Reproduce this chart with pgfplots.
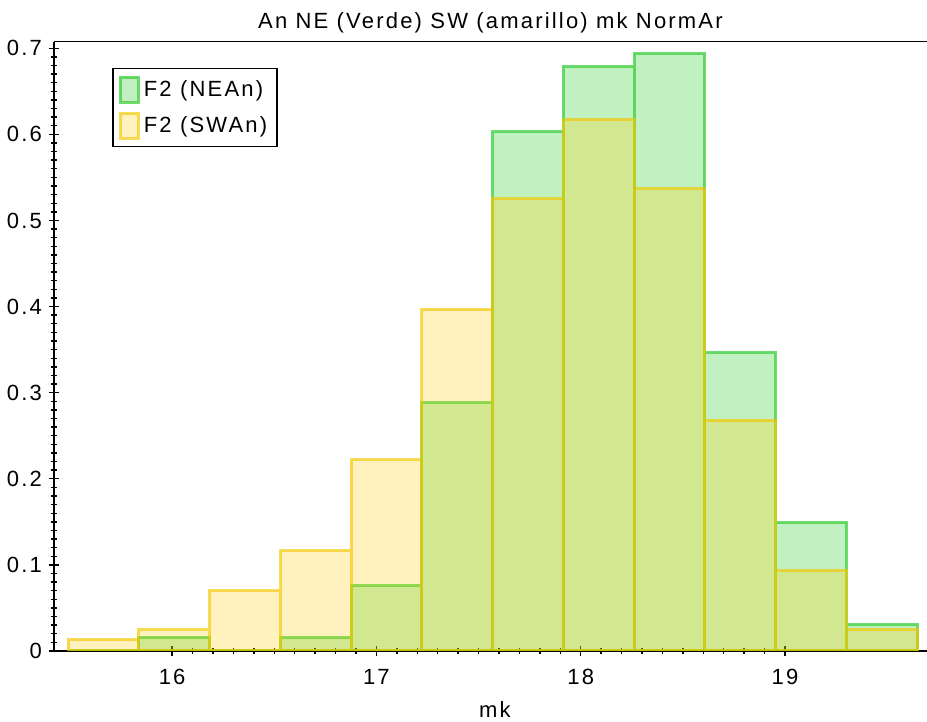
\documentclass[border=0pt]{standalone}
\usepackage{pgfplots}
\pgfplotsset{compat=1.18}
\usepackage{fontspec}
\setmainfont{Liberation Sans}[LetterSpace=10]

\definecolor{verde}{rgb}{0.2,0.8,0.2}
\definecolor{amarillo}{rgb}{1,0.8,0}
\definecolor{amarilloedge}{rgb}{0.95,0.78,0}

\begin{document}
\begin{tikzpicture}
\begin{axis}[
  at={(0,0)}, anchor=south west,
  width=436.5pt, height=304.7pt, scale only axis,
  xmin=15.422, xmax=19.695, ymin=0, ymax=0.7077,
  axis x line*=bottom, axis y line*=left,
  axis line style={line width=0.8pt},
  xtick={16,17,18,19}, minor x tick num=9,
  ytick={0,0.1,0.2,0.3,0.4,0.5,0.6,0.7}, minor y tick num=9,
  tick align=center, major tick length=5pt, minor tick length=3pt,
  tick style={black, line width=0.7pt},
  /pgf/number format/assume math mode=true,
  yticklabel style={/pgf/number format/fixed, /pgf/number format/precision=1},
  xticklabel style={yshift=-3pt},
  ticklabel style={font=\fontsize{11}{13}\selectfont},
  title={An NE (Verde) SW (amarillo) mk NormAr},
  title style={at={(axis description cs:0.5,1)}, anchor=base, yshift=0.7pt, font=\fontsize{11}{13}\selectfont},
  xlabel={mk},
  xlabel style={at={(axis description cs:0.505,0)}, anchor=base, yshift=-33.5pt, font=\fontsize{11}{13}\selectfont},
  legend style={at={(axis description cs:0.0665,0.957)}, anchor=north west,
    draw=black, line width=0.8pt, inner xsep=3pt, inner ysep=3.5pt, row sep=4pt,
    font=\fontsize{11}{13}\selectfont},
  legend cell align=left,
  legend image code/.code={\draw[#1] (0pt,-6.25pt) rectangle (9pt,6.25pt);},
]
\addplot[ybar interval, draw=verde, draw opacity=0.7, line width=1.5pt,
  fill=verde, fill opacity=0.3] coordinates {
  (15.491,0) (15.837,0.016) (16.184,0) (16.530,0.0155) (16.876,0.0755)
  (17.223,0.288) (17.569,0.603) (17.915,0.679) (18.261,0.694) (18.608,0.3465)
  (18.954,0.1494) (19.300,0.031) (19.647,0.031)
};
\addlegendentry{F2 (NEAn)}
\addplot[ybar interval, draw=amarilloedge, draw opacity=0.65, line width=1.5pt,
  fill=amarillo, fill opacity=0.25] coordinates {
  (15.491,0.0136) (15.837,0.0244) (16.184,0.070) (16.530,0.1165) (16.876,0.222)
  (17.223,0.397) (17.569,0.525) (17.915,0.617) (18.261,0.537) (18.608,0.268)
  (18.954,0.0933) (19.300,0.0244) (19.647,0.0244)
};
\addlegendentry{F2 (SWAn)}
\draw[black, line width=0.8pt] (rel axis cs:0,1) -- (rel axis cs:1,1);
\end{axis}
\pgfresetboundingbox
\path[use as bounding box] (-27pt,-35.5pt) rectangle (436.5pt,325.5pt);
\end{tikzpicture}
\end{document}
